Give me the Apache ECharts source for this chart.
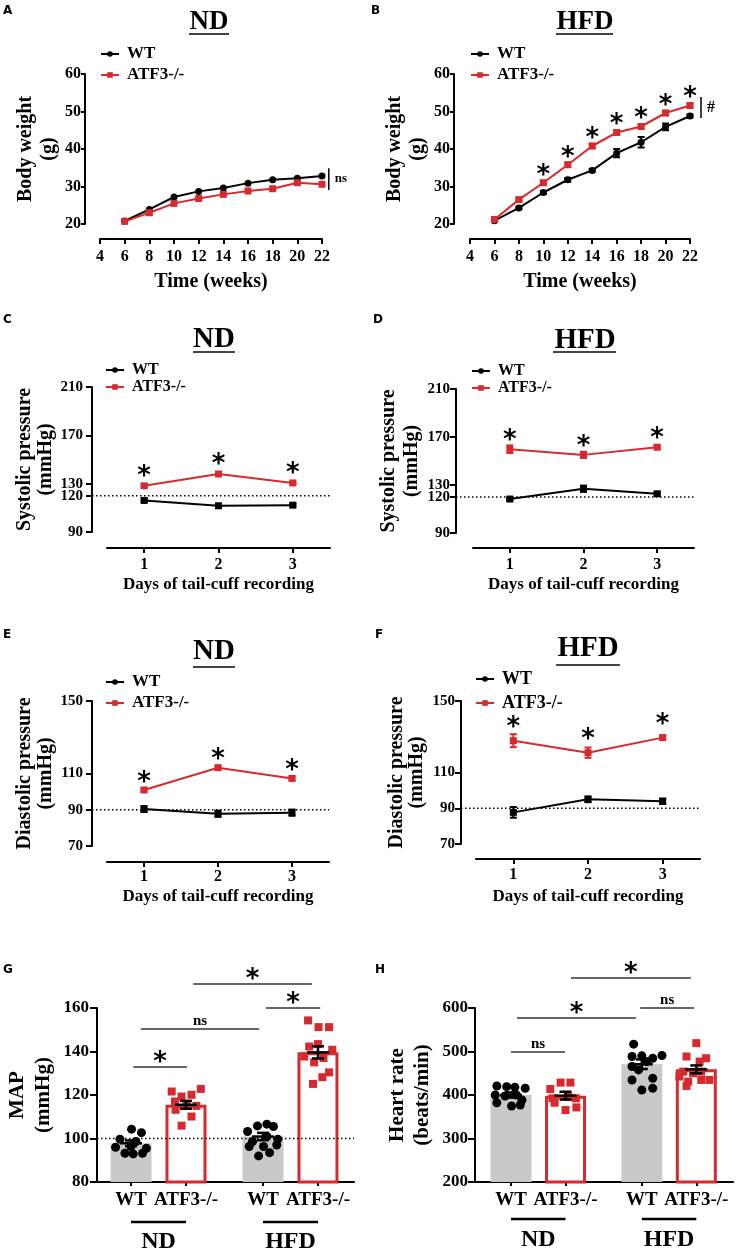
<!DOCTYPE html>
<html><head><meta charset="utf-8">
<script src="https://cdn.jsdelivr.net/npm/echarts@6/dist/echarts.min.js"></script>
<style>html,body{margin:0;padding:0;background:#fff}#c{width:736px;height:1252px}</style>
</head><body><div id="c"></div>
<script>
// ---------------- DATA ----------------
const weeks = [6, 8, 10, 12, 14, 16, 18, 20, 22];
const bwNdWT = [20.8, 23.9, 27.2, 28.7, 29.6, 30.9, 31.8, 32.2, 32.8];
const bwNdKO = [20.7, 23.0, 25.5, 26.8, 27.9, 28.8, 29.4, 31.0, 30.6];
const bwHfdWT = [20.9, 24.3, 28.4, 31.8, 34.3, 38.9, 41.8, 45.9, 48.8];
const bwHfdWTsem = [0.3, 0.3, 0.4, 0.5, 0.4, 1.1, 1.4, 0.9, 0.4];
const bwHfdKO = [21.2, 26.5, 31.0, 35.8, 40.8, 44.4, 46.0, 49.6, 51.6];
const bwHfdKOsem = [0.3, 0.4, 0.5, 0.6, 0.6, 0.6, 0.6, 0.6, 0.6];
const bwHfdStar = [0, 0, 1, 1, 1, 1, 1, 1, 1];

const days = ['1', '2', '3'];
const sysNdWT = [116.1, 111.7, 112.2], sysNdWTsem = [1.0, 1.0, 1.2];
const sysNdKO = [128.2, 138.0, 130.6], sysNdKOsem = [1.0, 1.0, 1.0];
const sysHfdWT = [118.3, 126.9, 122.7], sysHfdWTsem = [1.0, 2.6, 1.3];
const sysHfdKO = [159.8, 155.1, 161.5], sysHfdKOsem = [3.2, 2.6, 1.6];
const diaNdWT = [90.4, 87.8, 88.4], diaNdWTsem = [1.6, 1.7, 1.7];
const diaNdKO = [100.9, 113.2, 107.3], diaNdKOsem = [1.0, 1.0, 1.0];
const diaHfdWT = [87.7, 95.0, 93.9], diaHfdWTsem = [3.0, 1.6, 1.5];
const diaHfdKO = [127.8, 121.1, 129.5], diaHfdKOsem = [3.6, 2.9, 1.3];
const allStar = [1, 1, 1];

const sysTicks = [90, 120, 130, 170, 210];
const diaTicks = [70, 90, 110, 150];

const barLabels = ['WT', 'ATF3-/-', 'WT', 'ATF3-/-'];
const barPos = [0, 1, 2.4, 3.4];
const groupLabels = ['ND', 'HFD'];

const mapMean = [97.8, 115.5, 100.9, 139.6];
const mapSem = [1.3, 1.8, 1.7, 2.8];
const mapPts = [
  [104.3, 102.7, 99.7, 98.6, 96.0, 95.5, 93.2, 92.9, 93.2, 96.3],
  [121.6, 119.3, 120.1, 122.8, 117.0, 115.9, 115.0, 113.2, 110.1, 105.9],
  [103.2, 105.8, 106.6, 105.5, 98.6, 100.9, 99.7, 96.3, 96.3, 97.0, 92.0, 93.5],
  [154.3, 151.2, 151.2, 142.3, 143.4, 140.8, 137.7, 135.0, 137.0, 130.4, 128.2, 125.1]
];
const mapJit = [
  [0.01, 0.19, -0.2, 0.09, -0.28, 0.28, -0.11, 0.04, 0.21, 0.0],
  [-0.26, -0.08, 0.1, 0.27, -0.2, 0.01, 0.19, -0.19, 0.1, -0.08],
  [-0.28, -0.1, 0.07, 0.19, -0.19, 0.07, 0.27, -0.25, 0.01, 0.25, -0.08, 0.12],
  [-0.18, 0.01, 0.2, -0.16, 0.0, 0.26, -0.25, -0.07, 0.1, 0.2, 0.08, -0.09]
];
const mapSig = [[0.04, 1.02, 132.9, '*'], [0.18, 2.33, 150.3, 'ns'], [2.45, 3.44, 160, '*'], [1.13, 3.29, 171, '*']];

const hrMean = [400, 398.5, 470.8, 459];
const hrSem = [6, 9, 11, 9];
const hrPts = [
  [420.8, 419.2, 417.7, 415.4, 400, 397.7, 400, 388.5, 382.3, 374.6, 376.9],
  [413.8, 428.5, 428.5, 392.3, 396.2, 392.3, 382.3, 365.4, 371.5],
  [516.9, 488.5, 490, 484.6, 490.8, 465.4, 476.9, 457.7, 434.6, 438.5, 411.5, 415.4],
  [519.2, 488.5, 484.6, 476.9, 453.8, 450, 453.8, 442.3, 434.6, 430.8, 434.6, 420.8]
];
const hrJit = [
  [-0.26, -0.08, 0.07, 0.26, -0.29, -0.11, 0.1, 0.2, -0.26, 0.01, 0.17],
  [-0.28, -0.09, 0.09, -0.24, 0.05, 0.19, -0.2, 0.0, 0.2],
  [-0.15, -0.18, 0.0, 0.2, 0.37, -0.18, 0.09, -0.06, -0.18, 0.2, 0.0, 0.2],
  [0.0, -0.18, 0.18, 0.06, -0.24, -0.06, 0.09, -0.31, 0.24, -0.15, 0.09, -0.18]
];
const hrSig = [[0, 0.99, 499, 'ns'], [0.11, 2.29, 577, '*'], [2.37, 3.36, 600, 'ns'], [1.1, 3.3, 669, '*']];

// ---------------- STYLE ----------------
const SERIF = '"Liberation Serif","Times New Roman",Times,serif';
const SANS = '"DejaVu Sans","Liberation Sans",Arial,sans-serif';
const RED = '#d62a2e';
const GRAY = '#c9c9c9';

function merge(a, b) {
  const o = Object.assign({}, a);
  for (const k in b) {
    const v = b[k];
    if (v && typeof v === 'object' && !Array.isArray(v) && a && a[k] && typeof a[k] === 'object' && !Array.isArray(a[k])) o[k] = merge(a[k], v);
    else o[k] = v;
  }
  return o;
}
const baseAxis = {
  axisLine: {show: true, onZero: false, lineStyle: {color: '#000', width: 2}},
  axisTick: {show: true, inside: false, length: 5, lineStyle: {color: '#000', width: 2}},
  axisLabel: {color: '#000', fontFamily: SERIF, fontWeight: 'bold', fontSize: 16},
  splitLine: {show: false},
  nameLocation: 'middle',
  nameTextStyle: {color: '#000', fontFamily: SERIF, fontWeight: 'bold', fontSize: 20}
};

const linePanels = [
  {g: {left: 100, top: 74, width: 222, height: 150}, yOff: 15, xOff: 15,
   x: {type: 'value', min: 4, max: 22, interval: 2}, y: {min: 20, max: 60, interval: 10},
   wt: bwNdWT, ko: bwNdKO, wtSym: 'circle', stars: null,
   xName: 'Time (weeks)', xNS: 20, xNG: 33, xLM: 10, xLS: 16,
   yName: 'Body weight\n(g)', yNG: 25, yLH: 23, yLM: 4, yLS: 16, yTL: 4,
   leg: {left: 100, top: 45.5, gap: 4, size: 17}, br: {x: 22.55, y1: 29.1, y2: 34.9, t: 'ns', f: 'bold 13px ' + SERIF}},
  {g: {left: 470, top: 74, width: 220, height: 150}, yOff: 16, xOff: 15,
   x: {type: 'value', min: 4, max: 22, interval: 2}, y: {min: 20, max: 60, interval: 10},
   wt: bwHfdWT, wtSem: bwHfdWTsem, ko: bwHfdKO, koSem: bwHfdKOsem, wtSym: 'circle', stars: bwHfdStar, starOff: 12.5,
   xName: 'Time (weeks)', xNS: 20, xNG: 33, xLM: 10, xLS: 16,
   yName: 'Body weight\n(g)', yNG: 25, yLH: 23, yLM: 4, yLS: 16, yTL: 4,
   leg: {left: 470, top: 45.5, gap: 4, size: 17}, br: {x: 22.9, y1: 48.3, y2: 53.9, t: '#', f: 'bold 16px ' + SERIF}},
  {g: {left: 107, top: 387, width: 223, height: 145}, yOff: 15, xOff: 16,
   x: {type: 'category', data: days}, y: {min: 90, max: 210, custom: sysTicks}, ref: 120,
   wt: sysNdWT, wtSem: sysNdWTsem, ko: sysNdKO, koSem: sysNdKOsem, wtSym: 'rect', stars: allStar, starOff: 14.5,
   xName: 'Days of tail-cuff recording', xNS: 17, xNG: 28.5, xLM: 9, xLS: 16,
   yName: 'Systolic pressure\n(mmHg)', yNG: 33, yLH: 21, yLM: 9, yLS: 15, yTL: 6,
   leg: {left: 105, top: 362, gap: 1, size: 16}},
  {g: {left: 473, top: 389, width: 221, height: 144}, yOff: 17, xOff: 15,
   x: {type: 'category', data: days}, y: {min: 90, max: 210, custom: sysTicks}, ref: 120,
   wt: sysHfdWT, wtSem: sysHfdWTsem, ko: sysHfdKO, koSem: sysHfdKOsem, wtSym: 'rect', stars: allStar, starOff: 13.5,
   xName: 'Days of tail-cuff recording', xNS: 17, xNG: 28.5, xLM: 9, xLS: 16,
   yName: 'Systolic pressure\n(mmHg)', yNG: 32, yLH: 23, yLM: 6, yLS: 15, yTL: 6,
   leg: {left: 471, top: 363, gap: 1, size: 16}},
  {g: {left: 107, top: 701, width: 222, height: 145}, yOff: 15, xOff: 16,
   x: {type: 'category', data: days}, y: {min: 70, max: 150, custom: diaTicks}, ref: 90,
   wt: diaNdWT, wtSem: diaNdWTsem, ko: diaNdKO, koSem: diaNdKOsem, wtSym: 'rect', stars: allStar, starOff: 12.5,
   xName: 'Days of tail-cuff recording', xNS: 17, xNG: 26.5, xLM: 7, xLS: 16,
   yName: 'Diastolic pressure\n(mmHg)', yNG: 33, yLH: 21, yLM: 9, yLS: 15, yTL: 6,
   leg: {left: 105, top: 673.5, gap: 4, size: 17}},
  {g: {left: 476, top: 701, width: 224, height: 143}, yOff: 15, xOff: 15,
   x: {type: 'category', data: days}, y: {min: 70, max: 150, custom: diaTicks}, ref: 90,
   wt: diaHfdWT, wtSem: diaHfdWTsem, ko: diaHfdKO, koSem: diaHfdKOsem, wtSym: 'rect', stars: allStar, starOff: 17.5,
   xName: 'Days of tail-cuff recording', xNS: 17, xNG: 29.5, xLM: 8, xLS: 16,
   yName: 'Diastolic pressure\n(mmHg)', yNG: 34, yLH: 20, yLM: 6, yLS: 15, yTL: 6,
   leg: {left: 475, top: 670, gap: 6, size: 18}}
];

const barPanels = [
  {g: {left: 97, top: 1008, width: 257, height: 174}, xmin: -0.618, xmax: 4.055, y: {min: 80, max: 160, interval: 20},
   mean: mapMean, sem: mapSem, pts: mapPts, jit: mapJit, sig: mapSig, ref: 100,
   yName: 'MAP\n(mmHg)', yNG: 40, yLH: 26, yLM: 8, grpY: 40, grpTY: 60},
  {g: {left: 475, top: 1008, width: 258, height: 174}, xmin: -0.661, xmax: 4.073, y: {min: 200, max: 600, interval: 100},
   mean: hrMean, sem: hrSem, pts: hrPts, jit: hrJit, sig: hrSig, ref: null,
   yName: 'Heart rate\n(beats/min)', yNG: 40, yLH: 25, yLM: 7, grpY: 37, grpTY: 58}
];

const grid = [], xAxis = [], yAxis = [], series = [], legend = [];

function errSeries(gi, data, color, cap, lw) {
  return {type: 'custom', xAxisIndex: gi, yAxisIndex: gi, silent: true, z: 3, data: data,
    renderItem(params, api) {
      const x = api.value(0);
      const lo = api.coord([x, api.value(1)]), hi = api.coord([x, api.value(2)]);
      const c = cap / 2, st = {stroke: color, lineWidth: lw};
      return {type: 'group', children: [
        {type: 'line', shape: {x1: lo[0], y1: lo[1], x2: hi[0], y2: hi[1]}, style: st},
        {type: 'line', shape: {x1: lo[0] - c, y1: lo[1], x2: lo[0] + c, y2: lo[1]}, style: st},
        {type: 'line', shape: {x1: hi[0] - c, y1: hi[1], x2: hi[0] + c, y2: hi[1]}, style: st}
      ]};
    }};
}

linePanels.forEach((p, gi) => {
  grid.push(p.g);
  const cat = p.x.type === 'category';
  let xa = merge(baseAxis, {gridIndex: gi, offset: p.xOff, name: p.xName, nameGap: p.xNG,
    nameTextStyle: {fontSize: p.xNS}, axisLabel: {margin: p.xLM, fontSize: p.xLS}});
  xa = Object.assign(xa, p.x);
  if (cat) xa.axisTick = merge(xa.axisTick, {alignWithLabel: true});
  xAxis.push(xa);
  const ya = merge(baseAxis, {type: 'value', gridIndex: gi, offset: p.yOff, name: p.yName, nameGap: p.yNG,
    nameTextStyle: {lineHeight: p.yLH}, axisLabel: {margin: p.yLM, fontSize: p.yLS}, axisTick: {length: p.yTL},
    min: p.y.min, max: p.y.max});
  if (p.y.interval) ya.interval = p.y.interval;
  if (p.y.custom) { ya.axisLabel.customValues = p.y.custom; ya.axisTick.customValues = p.y.custom; }
  yAxis.push(ya);
  const xv = i => cat ? i : weeks[i];
  const mk = vals => vals.map((v, i) => [xv(i), v]);
  if (p.wtSem) series.push(errSeries(gi, p.wt.map((v, i) => [xv(i), v - p.wtSem[i], v + p.wtSem[i]]), '#000', 7, 2));
  if (p.koSem) series.push(errSeries(gi, p.ko.map((v, i) => [xv(i), v - p.koSem[i], v + p.koSem[i]]), RED, 7, 2));
  series.push({type: 'line', name: 'WT', xAxisIndex: gi, yAxisIndex: gi, data: mk(p.wt), symbol: p.wtSym, symbolSize: 7,
    itemStyle: {color: '#000', opacity: 1}, lineStyle: {color: '#000', width: 2}, z: 4});
  series.push({type: 'line', name: 'ATF3-/-', xAxisIndex: gi, yAxisIndex: gi, data: mk(p.ko), symbol: 'rect', symbolSize: 7,
    itemStyle: {color: RED, opacity: 1}, lineStyle: {color: RED, width: 2}, z: 5});
  legend.push({left: p.leg.left, top: p.leg.top, orient: 'vertical', padding: 0, itemGap: p.leg.gap,
    itemWidth: 18, itemHeight: 7, selectedMode: false, data: ['WT', 'ATF3-/-'],
    textStyle: {fontFamily: SERIF, fontWeight: 'bold', fontSize: p.leg.size, color: '#000', padding: [0, 0, 0, 3]}});
});

function nearestLabel(v) {
  let k = 0;
  barPos.forEach((p, i) => { if (Math.abs(p - v) < Math.abs(barPos[k] - v)) k = i; });
  return barLabels[k];
}

barPanels.forEach((p, j) => {
  const gi = linePanels.length + j;
  p.gi = gi;
  grid.push(p.g);
  xAxis.push(merge(baseAxis, {type: 'value', gridIndex: gi, min: p.xmin, max: p.xmax,
    axisTick: {length: 4, customValues: barPos},
    axisLabel: {fontSize: 19, margin: 8.5, customValues: barPos, formatter: nearestLabel}}));
  yAxis.push(merge(baseAxis, {type: 'value', gridIndex: gi, min: p.y.min, max: p.y.max, interval: p.y.interval,
    name: p.yName, nameGap: p.yNG, nameTextStyle: {fontSize: 21, lineHeight: p.yLH},
    axisTick: {length: 7}, axisLabel: {fontSize: 17, margin: p.yLM}}));
  series.push({type: 'bar', xAxisIndex: gi, yAxisIndex: gi, barWidth: 41, z: 1,
    data: barPos.map((x, i) => ({value: [x, p.mean[i]],
      itemStyle: i % 2 ? {color: '#fff', borderColor: RED, borderWidth: 3} : {color: GRAY}}))});
  const wtPts = [], koPts = [];
  p.pts.forEach((arr, i) => arr.forEach((v, k) => (i % 2 ? koPts : wtPts).push([barPos[i] + p.jit[i][k], v])));
  series.push({type: 'scatter', xAxisIndex: gi, yAxisIndex: gi, symbol: 'circle', symbolSize: 9,
    itemStyle: {color: '#000', opacity: 1}, data: wtPts, z: 2});
  series.push({type: 'scatter', xAxisIndex: gi, yAxisIndex: gi, symbol: 'rect', symbolSize: 8,
    itemStyle: {color: RED, opacity: 1}, data: koPts, z: 2});
  series.push({type: 'custom', xAxisIndex: gi, yAxisIndex: gi, silent: true, z: 6,
    data: barPos.map((x, i) => [x, p.mean[i], p.mean[i] - p.sem[i], p.mean[i] + p.sem[i]]),
    renderItem(params, api) {
      const x = api.value(0);
      const m = api.coord([x, api.value(1)]), lo = api.coord([x, api.value(2)]), hi = api.coord([x, api.value(3)]);
      const st = {stroke: '#000', lineWidth: 2.5};
      return {type: 'group', children: [
        {type: 'line', shape: {x1: m[0] - 11, y1: m[1], x2: m[0] + 11, y2: m[1]}, style: st},
        {type: 'line', shape: {x1: lo[0], y1: lo[1], x2: hi[0], y2: hi[1]}, style: st},
        {type: 'line', shape: {x1: lo[0] - 6, y1: lo[1], x2: lo[0] + 6, y2: lo[1]}, style: st},
        {type: 'line', shape: {x1: hi[0] - 6, y1: hi[1], x2: hi[0] + 6, y2: hi[1]}, style: st}
      ]};
    }});
});

const chart = echarts.init(document.getElementById('c'));
chart.setOption({animation: false, backgroundColor: '#fff', grid, xAxis, yAxis, series, legend});

// ---------------- ANNOTATIONS ----------------
const gr = [];
const toPx = (gi, x, y) => chart.convertToPixel({gridIndex: gi}, [x, y]);
function txt(text, x, y, font, align) {
  return {type: 'text', x: x, y: y, z: 100, silent: true,
    style: {text: text, font: font, fill: '#000', align: align || 'center', verticalAlign: 'middle',
      textAlign: align || 'center', textVerticalAlign: 'middle'}};
}
function ln(x1, y1, x2, y2, w, color, dash) {
  return {type: 'line', z: 100, silent: true, shape: {x1, y1, x2, y2},
    style: {stroke: color || '#000', lineWidth: w || 2, lineDash: dash || null}};
}
const STAR = 'bold 26px ' + SANS;
const starAt = (x, yc) => txt('*', x, yc + 5.5, STAR);

const titles = [
  ['ND', 209, 22, 27, [189, 229, 34]], ['HFD', 585, 22, 27, [556, 613, 34]],
  ['ND', 214, 340, 29, [193, 235, 352]], ['HFD', 585, 341, 29, [553, 616, 352]],
  ['ND', 214, 652, 29, [193, 235, 667]], ['HFD', 588, 649, 29, [556, 620, 665]]
];
titles.forEach(t => {
  gr.push(txt(t[0], t[1], t[2], 'bold ' + t[3] + 'px ' + SERIF));
  gr.push(ln(t[4][0], t[4][2], t[4][1], t[4][2], 2, '#444'));
});
[['A', 3, 11], ['B', 371, 11], ['C', 3, 320], ['D', 373, 320], ['E', 3, 635], ['F', 375, 635], ['G', 3, 970], ['H', 375, 970]]
  .forEach(l => gr.push(txt(l[0], l[1], l[2], 'bold 12px ' + SANS, 'left')));

linePanels.forEach((p, gi) => {
  const cat = p.x.type === 'category';
  const xv = i => cat ? i : weeks[i];
  if (p.ref != null) {
    const y = toPx(gi, 0, p.ref)[1];
    gr.push(ln(p.g.left - p.yOff, y, p.g.left + p.g.width, y, 1.5, '#000', [1.5, 2.5]));
  }
  if (p.stars) p.stars.forEach((s, i) => {
    if (!s) return;
    const pt = toPx(gi, xv(i), p.ko[i]);
    gr.push(starAt(pt[0], pt[1] - p.starOff));
  });
  if (p.br) {
    const a = toPx(gi, p.br.x, p.br.y1), b = toPx(gi, p.br.x, p.br.y2);
    gr.push(ln(a[0], a[1], b[0], b[1], 1.5, '#000'));
    gr.push(txt(p.br.t, a[0] + 6, (a[1] + b[1]) / 2, p.br.f, 'left'));
  }
});

barPanels.forEach(p => {
  const gi = p.gi;
  if (p.ref != null) {
    const y = toPx(gi, 0, p.ref)[1];
    gr.push(ln(p.g.left, y, p.g.left + p.g.width, y, 1.5, '#000', [1.5, 2.5]));
  }
  p.sig.forEach(s => {
    const a = toPx(gi, s[0], s[2]), b = toPx(gi, s[1], s[2]);
    gr.push(ln(a[0], a[1], b[0], b[1], 1.5, '#333'));
    const mx = (a[0] + b[0]) / 2;
    if (s[3] === '*') gr.push(starAt(mx, a[1] - 9));
    else gr.push(txt(s[3], mx, a[1] - 8, 'bold 15px ' + SERIF));
  });
  const base = toPx(gi, 0, p.y.min)[1];
  [[0, 1], [2, 3]].forEach((pair, k) => {
    const a = toPx(gi, barPos[pair[0]], p.y.min), b = toPx(gi, barPos[pair[1]], p.y.min);
    gr.push(ln(a[0], base + p.grpY, b[0], base + p.grpY, 2.5, '#000'));
    gr.push(txt(groupLabels[k], (a[0] + b[0]) / 2, base + p.grpTY, 'bold 24px ' + SERIF));
  });
});

chart.setOption({graphic: {elements: gr}});
</script>
</body></html>
